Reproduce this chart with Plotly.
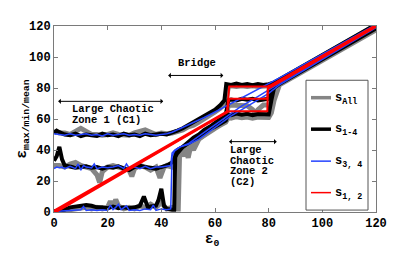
import plotly.graph_objects as go

# ---------------- data ----------------
# s_All (gray)
G_MAX_X = [0, 2, 4, 6, 8, 10, 12, 14, 16, 18, 20, 22, 24, 26, 28, 30, 32, 34, 36, 38, 40, 42, 44, 46, 48, 50, 52, 54, 56, 58, 60, 62, 64, 65, 66, 68, 70, 72, 74, 76, 78, 80, 82, 84, 120]
G_MAX_Y = [52, 51, 51, 50, 52, 54, 52, 50, 50, 49.5, 50, 51, 50, 50, 49.5, 51, 52, 53, 51.5, 50, 51, 50.5, 51, 52, 53, 55, 56, 58, 60, 62, 64.5, 67, 71, 81, 81.5, 81, 81.5, 81, 81.5, 81, 81.5, 81.5, 83, 85, 120.5]
G_MEAN_X = [0, 2, 4, 6, 8, 10, 12, 14, 16, 17, 18, 20, 22, 24, 26, 28, 29, 30, 32, 34, 36, 38, 39.5, 41, 42, 44, 45, 46, 47, 48, 49, 50, 51, 52, 54, 56, 58, 60, 62, 64, 65, 66, 68, 70, 72, 74, 75, 76, 78, 80, 81, 82, 84, 120]
G_MEAN_Y = [30, 30, 29, 31, 32, 30, 29, 28, 24, 19, 26, 29, 30, 29, 28, 27, 23, 28, 30, 29, 27, 29, 22, 29, 30, 29, 32, 33, 40, 36, 41, 35, 43, 40, 47, 50, 53, 55, 58, 61, 69, 69, 68.5, 69, 68.5, 66, 64, 66, 69, 69, 74, 79, 83.5, 119]
G_MIN_X = [0, 2, 4, 6, 8, 10, 12, 14, 16, 18, 20, 21, 22, 23, 24, 26, 28, 30, 32, 34, 36, 38, 40, 42, 44, 46, 46.3, 46.8, 48, 50, 52, 54, 56, 58, 60, 62, 64, 65, 66, 68, 70, 72, 74, 76, 78, 80, 81, 82, 84, 120]
G_MIN_Y = [0, 0.5, 1, 2, 2, 3, 3, 2, 3, 2, 3, 7, 3, 8, 4, 2, 3, 2, 4, 3, 5, 3, 6, 2, 3, 2, 2, 38, 40, 43, 45, 47.5, 49.5, 52, 54, 56, 58, 61, 60.5, 61.5, 60.8, 61.3, 60.5, 61.2, 60.8, 61, 64, 72, 82, 117.5]

# s_1-4 (black)
K_MAX_X = [0, 1, 2, 4, 6, 8, 10, 12, 14, 16, 18, 20, 22, 24, 26, 28, 30, 32, 34, 36, 38, 40, 42, 44, 46, 48, 50, 52, 54, 56, 58, 60, 62, 63.5, 64.2, 66, 68, 70, 72, 74, 76, 78, 80, 82, 84, 120]
K_MAX_Y = [51, 52.5, 51.5, 50, 49.5, 50.5, 49, 50, 49.5, 49, 50.5, 49.5, 50, 49, 50.5, 49.5, 50, 49, 50.5, 49.5, 50, 50.5, 50, 51, 52.5, 54, 56, 57.5, 59.5, 61.5, 64, 66, 69, 72, 82.5, 82, 82.8, 82, 82.6, 81.8, 82.5, 82, 82.5, 83.5, 85.5, 121]
K_MEAN_X = [0, 1, 2, 3, 4, 6, 8, 10, 12, 14, 16, 18, 20, 22, 24, 26, 28, 30, 32, 34, 36, 38, 40, 42, 44, 46, 48, 50, 52, 54, 56, 58, 60, 62, 64, 65, 66, 68, 70, 72, 74, 76, 78, 80, 80.5, 82, 84, 120]
K_MEAN_Y = [33, 36, 42, 34, 30, 29, 28.5, 29, 29.5, 28.5, 29, 28, 29, 28.5, 29.5, 28, 27, 29, 30, 29, 28.5, 28, 29, 30, 32, 38, 42, 45, 48, 50, 53, 55, 57.5, 60, 62.5, 72, 72.5, 72, 73, 72.5, 73, 72, 72.5, 73, 80, 82, 84, 119.5]
K_MIN_X = [0, 2, 4, 6, 8, 10, 12, 14, 16, 18, 20, 22, 24, 26, 28, 30, 32, 33.5, 35, 36, 38, 39, 40, 41, 42, 44, 44.8, 45.2, 46, 48, 50, 52, 54, 56, 58, 60, 62, 64, 65, 66, 68, 70, 72, 74, 76, 78, 80, 81, 82, 84, 120]
K_MIN_Y = [0.5, 1, 1.5, 3, 3.5, 3.5, 4.5, 4, 3, 3, 2.5, 3.5, 2.5, 3, 2.5, 3, 4, 10, 3, 3.5, 4, 8, 15, 4, 2, 1.5, 1.5, 38, 40, 42, 44.5, 46.5, 48.5, 51, 53.5, 55, 57, 59, 63, 62.5, 63.5, 62.8, 63.3, 62.5, 63.2, 62.8, 63, 72, 80, 82.5, 118.5]

# s_3,4 (blue)
B_MAX_X = [0, 2, 4, 6, 8, 10, 12, 14, 16, 18, 20, 22, 24, 26, 28, 30, 32, 34, 36, 38, 40, 42, 44, 50, 56, 60, 65, 70, 75, 80, 84, 120]
B_MAX_Y = [50.5, 50, 49.5, 50.5, 49.5, 50, 50.5, 49.5, 50, 49, 50.5, 49.5, 50, 50.5, 49.5, 50, 49.5, 50.5, 50, 49.5, 50, 50.5, 51.5, 56, 61, 64.5, 69, 73.5, 78, 82.5, 86.5, 121]
B_MEAN_X = [0, 1, 2, 3, 4, 6, 8, 9, 10, 11, 12, 14, 15, 16, 18, 20, 22, 24, 26, 27, 28, 30, 32, 34, 36, 38, 40, 42, 43.5, 44, 45, 47, 50, 54, 58, 62, 66, 70, 75, 80, 84, 120]
B_MEAN_Y = [28, 29, 28.5, 29, 28, 29.5, 28, 31, 27, 30, 29, 28.5, 31, 28, 29, 28.5, 29, 30, 28, 31, 28.5, 29, 28, 29.5, 28, 29, 29, 29.5, 30, 38, 40, 42, 44, 49, 54, 59, 64, 68.5, 73.5, 78.5, 83, 119.5]
B_MIN_X = [0, 2, 4, 6, 8, 10, 11, 12, 14, 16, 18, 20, 21, 22, 23, 24, 25, 27, 28, 30, 32, 34, 36, 37, 38, 40, 42, 43.5, 44, 45, 47, 50, 54, 58, 62, 66, 70, 75, 80, 84, 120]
B_MIN_Y = [0.3, 0.5, 0.5, 0.8, 1, 1.5, 3.5, 1, 1.5, 1, 1.5, 1, 4.5, 1.5, 3, 5, 1.5, 4, 1, 1.5, 1, 2, 1.5, 4.5, 1, 2, 1.5, 2, 36, 39.5, 42, 43.5, 47, 52, 57.5, 62, 66, 71, 76.5, 82, 119]

# s_1,2 (red)
R_MAX_X = [0, 64.5, 65.3, 79.5, 81, 120]
R_MAX_Y = [0.8, 65, 81, 81, 82, 120.6]
R_MEAN_X = [0, 64.5, 65.3, 79.5, 79.7, 120]
R_MEAN_Y = [0, 64.5, 73, 73, 80, 120]
R_MIN_X = [0, 64.5, 65.3, 79.5, 79.7, 120]
R_MIN_Y = [-0.8, 64, 65, 65, 79.5, 119.5]

TICKS = [0, 20, 40, 60, 80, 100, 120]
LEGEND_LABELS = ["s<sub>All</sub>", "s<sub>1-4</sub>", "s<sub>3, 4</sub>", "s<sub>1, 2</sub>"]

# ---------------- figure ----------------
MONO = "Liberation Mono"
GRAY = "#858585"
BLACK = "#000000"
BLUE = "#2443ff"
RED = "#ff0000"

series = [
    (GRAY, 5, [(G_MAX_X, G_MAX_Y), (G_MEAN_X, G_MEAN_Y), (G_MIN_X, G_MIN_Y)]),
    (BLACK, 4, [(K_MAX_X, K_MAX_Y), (K_MEAN_X, K_MEAN_Y), (K_MIN_X, K_MIN_Y)]),
    (BLUE, 1.5, [(B_MAX_X, B_MAX_Y), (B_MEAN_X, B_MEAN_Y), (B_MIN_X, B_MIN_Y)]),
    (RED, 2, [(R_MAX_X, R_MAX_Y), (R_MEAN_X, R_MEAN_Y), (R_MIN_X, R_MIN_Y)]),
]

fig = go.Figure()
for color, width, lines in series:
    for xs, ys in lines:
        assert len(xs) == len(ys)
        fig.add_trace(go.Scatter(x=xs, y=ys, mode="lines", showlegend=False,
                                 line=dict(color=color, width=width, shape="linear"),
                                 hoverinfo="skip"))

axis_common = dict(range=[0, 120], tickvals=TICKS, ticks="inside", ticklen=4,
                   tickcolor="#7a7a7a", linecolor="#7a7a7a", linewidth=1, mirror="ticks",
                   showgrid=False, zeroline=False,
                   tickfont=dict(family=MONO, size=12, color="black", weight="bold"))

# the page body adds an 8px offset, so the margins compensate for it
fig.update_layout(
    width=415, height=256,
    margin=dict(l=46, r=47, t=12, b=52),
    paper_bgcolor="white", plot_bgcolor="white",
    xaxis=dict(**axis_common),
    yaxis=dict(**axis_common),
    showlegend=False,
)

afont = dict(family=MONO, size=10.5, color="black", weight="bold")
annots = []
# double-headed arrows (data coordinates)
for (x0, x1, y) in [(1, 40.7, 71.4), (42, 63.1, 88.1), (64.7, 83, 45.4)]:
    annots.append(dict(x=x1, y=y, ax=x0, ay=y, xref="x", yref="y", axref="x", ayref="y",
                       text="", showarrow=True, arrowside="end+start", arrowhead=1,
                       arrowsize=0.9, arrowwidth=1, arrowcolor="black",
                       standoff=0, startstandoff=0))
annots.append(dict(x=53.2, y=96, xref="x", yref="y", text="Bridge", showarrow=False,
                   xanchor="center", yanchor="middle", font=afont))
for txt, y in [("Large Chaotic", 66.3), ("Zone 1 (C1)", 59.4)]:
    annots.append(dict(x=6.0, y=y, xref="x", yref="y", text=txt, showarrow=False,
                       xanchor="left", yanchor="middle", font=afont))
for txt, y in [("Large", 40.0), ("Chaotic", 33.1), ("Zone 2", 26.3), ("(C2)", 19.4)]:
    annots.append(dict(x=64.8, y=y, xref="x", yref="y", text=txt, showarrow=False,
                       xanchor="left", yanchor="middle", font=afont))

# axis titles
annots.append(dict(x=-0.095, y=0.5, xref="paper", yref="paper", text="ε<sub>max/min/mean</sub>",
                   showarrow=False, textangle=-90, xanchor="center", yanchor="middle",
                   font=dict(family=MONO, size=14, color="black", weight="bold")))
annots.append(dict(x=0.491, y=-0.15, xref="paper", yref="paper", text="ε<sub>0</sub>",
                   showarrow=False, xanchor="center", yanchor="middle",
                   font=dict(family=MONO, size=14, color="black", weight="bold")))

# manual legend (positions given in plot-area pixels of the reference)
def px2paper_x(px):
    return (px - 54) / 322.0

def py2paper_y(py):
    return (212 - py) / 192.0

shapes = [dict(type="rect", xref="paper", yref="paper",
               x0=px2paper_x(306), x1=px2paper_x(368), y0=py2paper_y(210), y1=py2paper_y(76),
               line=dict(color="#555555", width=1), fillcolor="white", layer="above")]
leg_styles = [(GRAY, 3.5), (BLACK, 3.5), (BLUE, 1.5), (RED, 1.5)]
leg_py = [94, 126.5, 159.5, 192]
for (c, w), py, lab in zip(leg_styles, leg_py, LEGEND_LABELS):
    shapes.append(dict(type="line", xref="paper", yref="paper",
                       x0=px2paper_x(311), x1=px2paper_x(331),
                       y0=py2paper_y(py), y1=py2paper_y(py),
                       line=dict(color=c, width=w), layer="above"))
    annots.append(dict(x=px2paper_x(333), y=py2paper_y(py + 1), xref="paper", yref="paper",
                       text=lab, showarrow=False, xanchor="left", yanchor="middle",
                       font=dict(family=MONO, size=12, color="black", weight="bold")))

fig.update_layout(annotations=annots, shapes=shapes)
fig.write_html("out.html")
